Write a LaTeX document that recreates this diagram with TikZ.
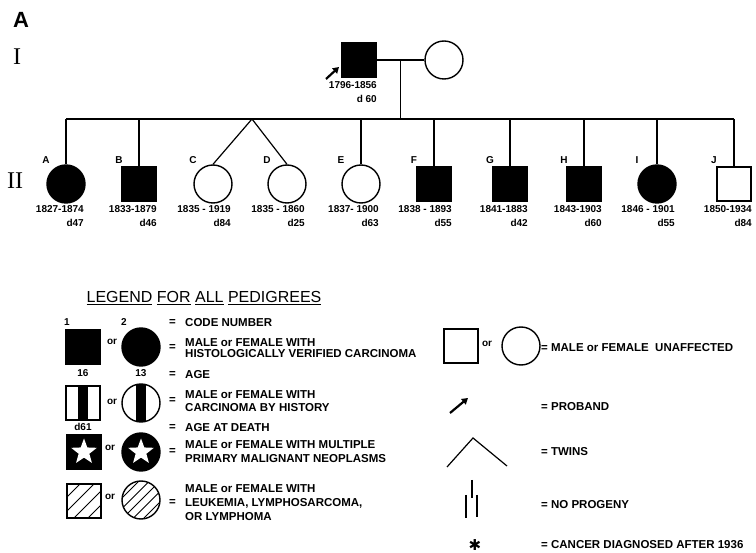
\documentclass[tikz,border=0pt]{standalone}
\usepackage{fontspec}
\setmainfont{Liberation Sans}
\newfontfamily\romfont{Liberation Serif}
\newfontfamily\symfont{DejaVu Sans}
\usetikzlibrary{positioning, shapes.geometric, arrows.meta, calc}

\tikzset{
  kin/.style={line width=1.2pt},
  male/.style={draw, line width=1.4pt, minimum size=34pt, inner sep=0pt},
  female/.style={circle, draw, line width=1.4pt, minimum size=38pt, inner sep=0pt},
  mfill/.style={male, fill=black},
  ffill/.style={female, fill=black},
  mopen/.style={male},
  fopen/.style={female},
  stripe/.style={path picture={\fill (path picture bounding box.center) ++(-5,-25) rectangle ++(10,50);}},
  hatch/.style={path picture={\foreach \d in {#1}
      \draw[line width=1pt] (path picture bounding box.center) ++(\d-25,25) -- ++(50,-50);}},
  whitestar/.style={star, star points=5, star point ratio=2.4, fill=white, minimum size=27pt, inner sep=0pt},
  proband/.style={-{Triangle[length=6pt,width=7pt]}, line width=2.2pt},
  gen/.style={font=\romfont\fontsize{24}{24}\selectfont},
  lbl/.style={font=\bfseries\fontsize{10}{11}\selectfont},
  dates/.style={font=\bfseries\fontsize{10}{14}\selectfont, align=right, inner sep=0pt},
  note/.style={font=\bfseries\fontsize{10}{12}\selectfont, inner sep=0pt},
  key/.style={font=\bfseries\fontsize{11.5}{13.5}\selectfont, align=left, anchor=west, inner sep=0pt}
}

\begin{document}
\begin{tikzpicture}[x=1pt, y=-1pt]
    \useasboundingbox (0,0) rectangle (756,553);

    %% panel letter and generations
    \node[font=\bfseries\fontsize{22}{22}\selectfont] (title) at (21,20) {A};
    \node[gen] (genI) at (17,57) {I};
    \node[gen] (genII) at (15,181) {II};

    %% generation I
    \node[mfill] (p1) at (359,60) {};
    \node[fopen] (w1) at (444,60) {};
    \draw[kin] (p1) -- (w1);
    \coordinate (m1) at ($(p1.east)!0.5!(w1.west)$);
    \coordinate (sib) at (0,119);
    \draw[kin] (m1) -- (m1 |- sib);
    \coordinate (arrI) at (326,79);
    \draw[proband] (arrI) -- ++(13,-12);
    \node[dates, anchor=north east] (yp1) at ([shift={(18,21)}]p1.center) {1796-1856\\d 60};

    %% generation II
    \foreach \L/\x/\kind/\yr/\age in {A/66/ffill/1827-1874/d47, B/139/mfill/1833-1879/d46,
        C/213/fopen/1835 - 1919/d84, D/287/fopen/1835 - 1860/d25, E/361/fopen/1837- 1900/d63,
        F/434/mfill/1838 - 1893/d55, G/510/mfill/1841-1883/d42, H/584/mfill/1843-1903/d60,
        I/657/ffill/1846 - 1901/d55, J/734/mopen/1850-1934/d84} {
      \node[\kind] (s\L) at (\x,184) {};
      \node[lbl] (l\L) at ([shift={(-20,-24)}]s\L.center) {\L};
      \node[dates, anchor=north east] (y\L) at ([shift={(18,21)}]s\L.center) {\yr\\\age};
    }
    \draw[kin] (sA.north |- sib) -- (sJ.north |- sib);
    \foreach \L in {A,B,E,F,G,H,I,J} \draw[kin] (s\L.north |- sib) -- (s\L.north);
    \coordinate (tw) at (252,119);
    \draw[kin] (sC.north) -- (tw) -- (sD.north);

    %% legend, left column
    \node[font=\fontsize{16}{18}\selectfont] (lghead) at (204,298)
      {\underline{LEGEND} \underline{FOR} \underline{ALL} \underline{PEDIGREES}};

    \node[mfill] (lgM1) at (83,347) {};
    \node[ffill] (lgF1) at (141,347) {};
    \node[note] (cn1) at (67,322) {1};
    \node[note] (cn2) at (124,322) {2};
    \node[note] (or1) at (112,342) {or};
    \node[note] (ag1) at (83,373) {16};
    \node[note] (ag2) at (141,373) {13};

    \node[mopen, stripe] (lgM2) at (83,403) {};
    \node[fopen, stripe] (lgF2) at (141,403) {};
    \node[note] (or2) at (112,402) {or};
    \node[note] (dd1) at (83,427) {d61};

    \node[mfill] (lgM3) at (84,452) {};
    \node[whitestar] (st1) at (lgM3.center) {};
    \node[ffill] (lgF3) at (141,452) {};
    \node[whitestar] (st2) at (lgF3.center) {};
    \node[note] (or3) at (110,448) {or};

    \node[mopen, hatch={-21,-7,7,21}] (lgM4) at (84,501) {};
    \node[fopen, hatch={-21,-10.5,0,10.5,21}] (lgF4) at (141,500) {};
    \node[note] (or4) at (110,497) {or};

    \foreach \n/\y in {1/323, 2/348, 3/375, 4/401, 5/428, 6/452, 7/503}
      \node[key] (eq\n) at (169,\y) {=};
    \node[key] (kt1) at (185,323) {CODE NUMBER};
    \node[key, font=\bfseries\fontsize{11.5}{11.5}\selectfont] (kt2) at (185,348)
      {MALE or FEMALE WITH\\HISTOLOGICALLY VERIFIED CARCINOMA};
    \node[key] (kt3) at (185,375) {AGE};
    \node[key] (kt4) at (185,401) {MALE or FEMALE WITH\\CARCINOMA BY HISTORY};
    \node[key] (kt5) at (185,428) {AGE AT DEATH};
    \node[key, font=\bfseries\fontsize{11.5}{14}\selectfont] (kt6) at (185,452)
      {MALE or FEMALE WITH MULTIPLE\\PRIMARY MALIGNANT NEOPLASMS};
    \node[key, font=\bfseries\fontsize{11.5}{14}\selectfont] (kt7) at (185,503)
      {MALE or FEMALE WITH\\LEUKEMIA, LYMPHOSARCOMA,\\OR LYMPHOMA};

    %% legend, right column
    \node[mopen] (lgM0) at (461,346) {};
    \node[fopen] (lgF0) at (521,346) {};
    \node[note] (or0) at (487,344) {or};
    \node[key] (kr1) at (541,348) {= MALE or FEMALE\ \ UNAFFECTED};

    \coordinate (arrK) at (450,413);
    \draw[proband] (arrK) -- ++(18,-15);
    \node[key] (kr2) at (541,407) {= PROBAND};

    \coordinate (twK) at (473,438);
    \draw[kin] (447,467) -- (twK) -- (507,466);
    \node[key] (kr3) at (541,452) {= TWINS};

    \draw[kin] (472,480) -- (472,498);
    \draw[kin] (466,495) -- (466,518);
    \draw[kin] (477,495) -- (477,517);
    \node[key] (kr4) at (541,505) {= NO PROGENY};

    \node[font=\symfont\fontsize{15}{15}\selectfont, inner sep=0pt] (ast) at (475,545) {✱};
    \node[key] (kr5) at (541,545) {= CANCER DIAGNOSED AFTER 1936};
  \end{tikzpicture}
\end{document}
